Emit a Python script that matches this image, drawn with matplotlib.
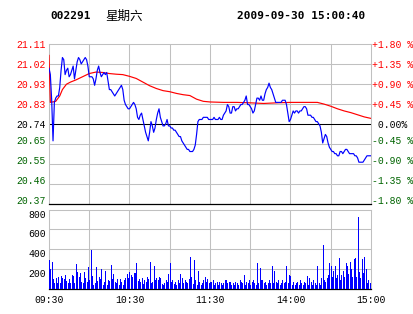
import matplotlib
matplotlib.use("Agg")
import matplotlib.pyplot as plt

# minute index 0..240 (09:30-11:30, 13:00-15:00)
prev_close = 20.74

price = [
    21.00, 20.97, 20.85, 20.66, 20.84, 20.86, 20.87, 20.87, 20.91, 20.99,
    21.05, 21.04, 20.97, 20.99, 21.00, 20.96, 20.97, 20.99, 21.01, 20.95,
    20.99, 21.03, 21.05, 21.04, 21.02, 21.03, 21.04, 21.05, 21.04, 21.01,
    20.96, 20.96, 20.96, 20.95, 20.92, 20.95, 20.99, 21.01, 20.98, 20.96,
    20.97, 20.98, 20.97, 20.98, 20.94, 20.90, 20.90, 20.89, 20.88, 20.87,
    20.88, 20.89, 20.90, 20.91, 20.92, 20.90, 20.85, 20.83, 20.82, 20.81,
    20.81, 20.82, 20.83, 20.84, 20.83, 20.81, 20.77, 20.76, 20.78, 20.79,
    20.76, 20.73, 20.70, 20.68, 20.66, 20.70, 20.75, 20.73, 20.70, 20.72,
    20.76, 20.79, 20.81, 20.77, 20.75, 20.73, 20.73, 20.74, 20.76, 20.73,
    20.73, 20.72, 20.72, 20.71, 20.71, 20.70, 20.69, 20.68, 20.68, 20.66,
    20.65, 20.64, 20.63, 20.62, 20.62, 20.61, 20.61, 20.61, 20.62, 20.64,
    20.69, 20.75, 20.76, 20.76, 20.76, 20.77, 20.77, 20.77, 20.77, 20.76,
    20.76, 20.76, 20.76, 20.77, 20.76, 20.76, 20.76, 20.77, 20.76, 20.76,
    20.78, 20.79, 20.80, 20.83, 20.82, 20.79, 20.79, 20.82, 20.82, 20.80,
    20.81, 20.81, 20.82, 20.83, 20.83, 20.84, 20.85, 20.87, 20.83, 20.83,
    20.82, 20.81, 20.79, 20.80, 20.83, 20.86, 20.86, 20.85, 20.87, 20.85,
    20.85, 20.88, 20.90, 20.91, 20.93, 20.91, 20.90, 20.88, 20.86, 20.84,
    20.84, 20.84, 20.84, 20.84, 20.85, 20.85, 20.85, 20.83, 20.79, 20.75,
    20.76, 20.78, 20.80, 20.79, 20.80, 20.80, 20.79, 20.80, 20.80, 20.81,
    20.82, 20.82, 20.81, 20.78, 20.78, 20.78, 20.77, 20.77, 20.76, 20.75,
    20.75, 20.74, 20.73, 20.70, 20.65, 20.67, 20.69, 20.68, 20.65, 20.63,
    20.62, 20.61, 20.61, 20.60, 20.60, 20.59, 20.59, 20.61, 20.61, 20.60,
    20.61, 20.62, 20.62, 20.61, 20.60, 20.60, 20.60, 20.60, 20.59, 20.59,
    20.58, 20.56, 20.56, 20.56, 20.56, 20.57, 20.58, 20.59, 20.59, 20.59,
    20.59,
]

avg_minutes = [0, 1, 5, 8, 10, 13, 16, 20, 25, 30, 35, 40, 45, 50, 55, 60,
               65, 70, 75, 80, 85, 90, 95, 100, 105, 110, 115, 120, 130, 140,
               150, 160, 170, 180, 190, 200, 205, 210, 215, 220, 225, 230,
               235, 240]
avg_price = [21.06, 20.84, 20.845, 20.87, 20.90, 20.925, 20.935, 20.945,
             20.96, 20.975, 20.982, 20.98, 20.975, 20.972, 20.97, 20.962,
             20.952, 20.935, 20.918, 20.905, 20.895, 20.89, 20.882, 20.876,
             20.872, 20.855, 20.845, 20.842, 20.84, 20.84, 20.838, 20.835,
             20.838, 20.84, 20.84, 20.84, 20.832, 20.822, 20.81, 20.80,
             20.792, 20.782, 20.772, 20.765]

volume = [
    288, 197, 265, 95, 51, 102, 60, 112, 51, 125,
    109, 95, 136, 75, 51, 95, 51, 136, 125, 51,
    248, 166, 112, 153, 61, 58, 170, 102, 68, 221,
    85, 390, 125, 34, 58, 221, 75, 119, 95, 193,
    31, 61, 176, 34, 85, 75, 238, 92, 146, 68,
    51, 92, 34, 95, 71, 34, 85, 102, 146, 109,
    170, 136, 119, 153, 160, 261, 80, 100, 68, 110,
    50, 85, 68, 120, 100, 265, 60, 68, 231, 90,
    110, 85, 120, 110, 50, 34, 60, 85, 68, 146,
    261, 68, 85, 50, 68, 34, 85, 55, 146, 102,
    60, 85, 68, 51, 100, 319, 120, 50, 288, 85,
    40, 180, 68, 34, 51, 85, 120, 68, 95, 51,
    68, 68, 85, 34, 51, 68, 40, 68, 51, 34,
    60, 85, 85, 51, 68, 68, 40, 51, 34, 68,
    51, 34, 85, 68, 51, 136, 40, 68, 51, 85,
    34, 68, 85, 51, 34, 261, 51, 210, 85, 85,
    51, 68, 34, 60, 85, 51, 227, 60, 178, 68,
    51, 85, 34, 60, 85, 51, 68, 227, 51, 136,
    125, 40, 68, 34, 51, 68, 40, 85, 51, 34,
    68, 51, 125, 40, 105, 68, 34, 85, 51, 40,
    227, 51, 34, 102, 441, 85, 68, 102, 136, 261,
    227, 120, 180, 227, 102, 136, 305, 85, 136, 180,
    120, 261, 227, 150, 271, 193, 120, 295, 305, 112,
    723, 170, 102, 299, 160, 316, 193, 51, 85, 60,
    417,
]

pct_steps = [-1.80, -1.35, -0.90, -0.45, 0.00, 0.45, 0.90, 1.35, 1.80]
time_ticks = [0, 60, 120, 180, 240]
time_labels = ["09:30", "10:30", "11:30", "14:00", "15:00"]
vol_ticks = [200, 400, 600, 800]

minutes = list(range(len(price)))
mono = "Liberation Mono"
grid_c = "#c0c0c0"
green = "#006400"
glw = 0.75

fig = plt.figure(figsize=(4.14, 3.14), dpi=100)
fig.patch.set_facecolor("white")

W, H = 414, 314
ax = fig.add_axes([49 / W, 1 - 203.5 / H, 322 / W, 159.5 / H])
axv = fig.add_axes([49 / W, 1 - 288.5 / H, 322 / W, 78.8 / H])

lo = prev_close * (1 - 0.018)
hi = prev_close * (1 + 0.018)
levels = [prev_close * (1 + p / 100) for p in pct_steps]

# price panel
ax.set_xlim(0, 240)
ax.set_ylim(lo, hi)
for t in range(30, 240, 30):
    ax.axvline(t, color=grid_c, lw=glw, zorder=1)
for lv in levels[1:-1]:
    ax.axhline(lv, color=grid_c, lw=glw, zorder=1)
ax.axhline(prev_close, color="black", lw=glw, zorder=2)
ax.plot(avg_minutes, avg_price, color="#ff0000", lw=0.85, zorder=3)
ax.plot(minutes, price, color="#0000ff", lw=0.85, zorder=4)

ax.set_xticks([])
ax.set_yticks(levels)
ax.set_yticklabels([f"{v:.2f}" for v in levels], family=mono, fontsize=7)
ax.tick_params(axis="y", length=0, pad=2)
for lab, p in zip(ax.get_yticklabels(), pct_steps):
    lab.set_color("#ff0000" if p > 0 else ("black" if p == 0 else green))
    if p < 0:
        lab.set_va("baseline")

axr = ax.twinx()
axr.set_ylim(lo, hi)
axr.set_yticks(levels)
axr.set_yticklabels([" 0.00%" if p == 0 else f"{p:+.2f} %" for p in pct_steps],
                    family=mono, fontsize=7)
axr.tick_params(axis="y", length=0, pad=1)
for lab, p in zip(axr.get_yticklabels(), pct_steps):
    lab.set_color("#ff0000" if p > 0 else ("black" if p == 0 else green))
    if p < 0:
        lab.set_va("baseline")
for s in axr.spines.values():
    s.set_visible(False)

for s in ("top", "left", "right"):
    ax.spines[s].set_color(grid_c)
    ax.spines[s].set_linewidth(glw)
ax.spines["bottom"].set_color("black")
ax.spines["bottom"].set_linewidth(0.9)

# volume panel
axv.vlines(minutes, 0, volume, color="#0000ff", lw=0.7, antialiased=False,
           zorder=3)
axv.set_xlim(0, 240)
axv.set_ylim(0, 800)
for t in range(30, 240, 30):
    axv.axvline(t, color=grid_c, lw=glw, zorder=1)
for v in vol_ticks[:-1]:
    axv.axhline(v, color=grid_c, lw=glw, zorder=1)
axv.set_yticks(vol_ticks)
axv.set_yticklabels([str(v) for v in vol_ticks], family=mono, fontsize=7)
for lab in axv.get_yticklabels():
    lab.set_va("top")
axv.set_xticks(time_ticks)
axv.set_xticklabels(time_labels, family=mono, fontsize=7)
axv.tick_params(length=0, pad=2)
axv.tick_params(axis="x", pad=5)
for s in ("top", "left", "right"):
    axv.spines[s].set_color(grid_c)
    axv.spines[s].set_linewidth(glw)
axv.spines["bottom"].set_color("black")
axv.spines["bottom"].set_linewidth(0.9)

# header
fig.text(50 / W, 1 - 16 / H, "002291", family="DejaVu Sans Mono",
         weight="bold", fontsize=8, va="center", ha="left")
fig.text(105 / W, 1 - 16 / H, "星期六", family=["Noto Sans CJK SC", "DejaVu Sans"],
         fontsize=9, va="center", ha="left")
fig.text(237 / W, 1 - 16 / H, "2009-09-30 15:00:40", family="DejaVu Sans Mono",
         weight="bold", fontsize=8, va="center", ha="left")

fig.savefig("out.png", dpi=100)
